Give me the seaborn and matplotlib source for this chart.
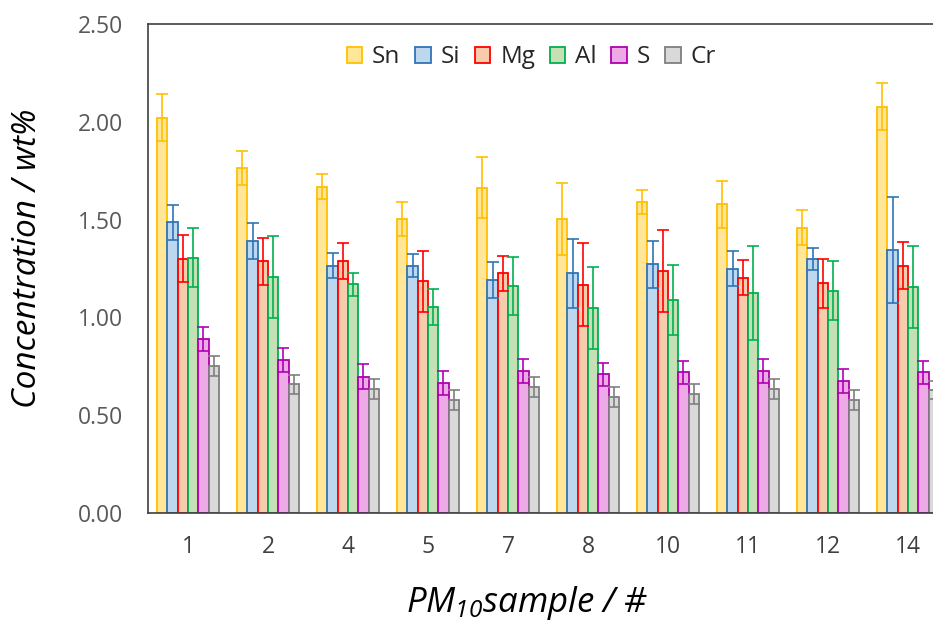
import numpy as np
import pandas as pd
import matplotlib
matplotlib.use("Agg")
import matplotlib.pyplot as plt
import seaborn as sns
from matplotlib.patches import Patch

samples = ["1", "2", "4", "5", "7", "8", "10", "11", "12", "14"]
elements = ["Sn", "Si", "Mg", "Al", "S", "Cr"]

sn = [2.02, 1.765, 1.668, 1.503, 1.663, 1.503, 1.590, 1.578, 1.459, 2.077]
si = [1.486, 1.391, 1.264, 1.264, 1.191, 1.225, 1.271, 1.249, 1.299, 1.345]
mg = [1.299, 1.288, 1.288, 1.185, 1.225, 1.167, 1.237, 1.203, 1.174, 1.264]
al = [1.305, 1.208, 1.169, 1.055, 1.162, 1.050, 1.089, 1.123, 1.137, 1.157]
s_ = [0.891, 0.782, 0.697, 0.666, 0.726, 0.709, 0.719, 0.726, 0.675, 0.719]
cr = [0.753, 0.658, 0.634, 0.578, 0.646, 0.595, 0.607, 0.634, 0.578, 0.629]

sn_err = [0.12, 0.088, 0.063, 0.088, 0.155, 0.184, 0.061, 0.12, 0.09, 0.12]
si_err = [0.09, 0.09, 0.064, 0.058, 0.092, 0.178, 0.121, 0.09, 0.057, 0.27]
mg_err = [0.12, 0.12, 0.092, 0.156, 0.09, 0.212, 0.21, 0.09, 0.126, 0.12]
al_err = [0.15, 0.21, 0.058, 0.092, 0.149, 0.209, 0.177, 0.24, 0.15, 0.21]
s_err = [0.062, 0.063, 0.063, 0.061, 0.061, 0.058, 0.058, 0.063, 0.063, 0.058]
cr_err = [0.051, 0.05, 0.05, 0.052, 0.051, 0.051, 0.051, 0.05, 0.05, 0.046]

face_colors = ["#FFE699", "#BDD7EE", "#F8CBAD", "#C5E0B4", "#EEAAE6", "#D9D9D9"]
edge_colors = ["#FFC000", "#2E75B6", "#FF0000", "#00B050", "#B000B0", "#7F7F7F"]

values = [sn, si, mg, al, s_, cr]
errors = [sn_err, si_err, mg_err, al_err, s_err, cr_err]

rows = []
for el, vals, errs in zip(elements, values, errors):
    for smp, v, e in zip(samples, vals, errs):
        rows.append({"sample": smp, "element": el, "conc": v, "err": e})
df = pd.DataFrame(rows)

sns.set_theme(style="white")
plt.rcParams["font.family"] = ["Open Sans", "DejaVu Sans"]
plt.rcParams["mathtext.fontset"] = "custom"
plt.rcParams["mathtext.it"] = "Open Sans:italic"
plt.rcParams["mathtext.rm"] = "Open Sans:italic"
plt.rcParams["mathtext.default"] = "it"

fig = plt.figure(figsize=(9.33, 6.28), dpi=100)
ax = fig.add_axes([148 / 933, (628 - 513) / 628, 800 / 933, 489 / 628])

sns.barplot(data=df, x="sample", y="conc", hue="element", order=samples,
            hue_order=elements, palette=face_colors, width=0.77,
            errorbar=None, legend=False, ax=ax, linewidth=1.3,
            saturation=1)

bar_containers = list(ax.containers)
for i, cont in enumerate(bar_containers):
    xs = []
    for p in cont.patches:
        p.set_edgecolor(edge_colors[i])
        p.set_linewidth(1.3)
        xs.append(p.get_x() + p.get_width() / 2)
    ax.errorbar(xs, values[i], yerr=errors[i], fmt="none",
                ecolor=edge_colors[i], elinewidth=1.2, capsize=4.3,
                capthick=1.2, zorder=5)

ax.set_xlim(-0.5, 9.5)
ax.set_ylim(0, 2.5)
ax.set_yticks([0, 0.5, 1.0, 1.5, 2.0, 2.5])
ax.set_yticklabels(["0.00", "0.50", "1.00", "1.50", "2.00", "2.50"])
ax.tick_params(axis="y", direction="in", length=6, width=1.2,
               color="#404040", labelsize=16.5, labelcolor="#595959", pad=18)
ax.tick_params(axis="x", length=0, labelsize=16.5, labelcolor="#404040", pad=16)

for side in ["left", "bottom", "top", "right"]:
    ax.spines[side].set_visible(True)
    ax.spines[side].set_color("#404040")
    ax.spines[side].set_linewidth(1.2)

ax.set_ylabel("Concentration / wt%", fontsize=24, fontstyle="italic",
              color="black")
ax.yaxis.set_label_coords(-0.13, 0.52)
ax.set_xlabel(r"$PM_{10}$" + "sample / #", fontsize=25,
              fontstyle="italic", color="black")
ax.xaxis.set_label_coords(0.474, -0.145)

handles = [Patch(facecolor=fc, edgecolor=ec, linewidth=1.3, label=el)
           for fc, ec, el in zip(face_colors, edge_colors, elements)]
leg = ax.legend(handles=handles, ncol=6, loc="center",
                bbox_to_anchor=(0.479, 0.932),
                frameon=False, fontsize=17.5, handlelength=0.65,
                handleheight=0.65, handletextpad=0.4, columnspacing=0.6)
for t in leg.get_texts():
    t.set_color("#262626")

fig.savefig("out.png", dpi=100)
